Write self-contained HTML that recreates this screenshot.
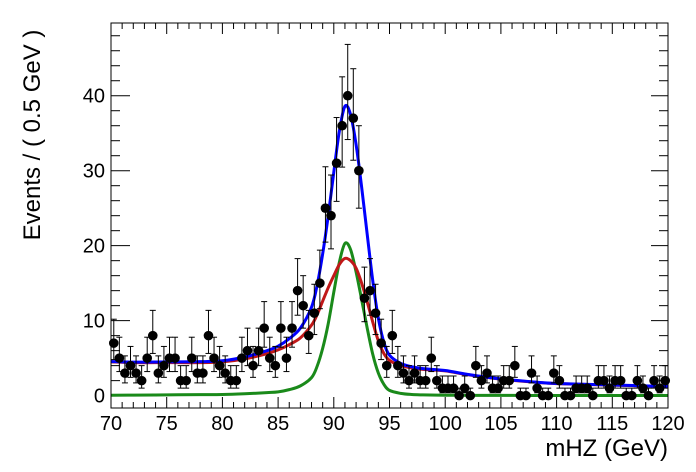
<!DOCTYPE html>
<html><head><meta charset="utf-8"><style>
html,body{margin:0;padding:0;background:#fff;}
svg{display:block;font-family:"Liberation Sans",Arial,sans-serif;}
</style></head><body>
<svg id="chart" width="696" height="472" viewBox="0 0 696 472">
<rect width="696" height="472" fill="#fff"/>
<g id="axes"></g>
<g id="curves"></g>
<g id="points"></g>
<rect x="111" y="23" width="557" height="385" fill="none" stroke="#000" stroke-width="1"/>
<text x="40" y="135" transform="rotate(-90 40 135)" text-anchor="middle" font-size="24">Events / ( 0.5 GeV )</text>
<text x="668" y="456" text-anchor="end" font-size="24">mHZ (GeV)</text>
</svg>
<script>
const binCounts = [7,5,3,4,3,2,5,8,3,4,5,5,2,2,5,3,3,8,5,4,3,2,2,5,6,4,6,9,5,4,9,5,9,14,12,8,11,15,25,24,31,36,40,37,30,13,14,11,7,4,8,4,3,2,3,2,2,5,2,1,1,1,0,1,0,4,2,3,1,1,2,2,4,0,0,3,1,0,0,3,2,0,0,1,1,1,0,2,2,1,2,2,0,0,2,1,0,2,1,2];
const xTicks = [70,75,80,85,90,95,100,105,110,115,120];
const yTicks = [0,10,20,30,40];
const redX = [70,72,75,78,80,82,84,85,86,87,88,88.5,89,89.5,90,90.5,91,91.5,92,92.5,93,93.5,94,94.5,95,96,97,98,100,102,105,108,110,115,120];
const redY = [4.5,4.4,4.4,4.4,4.5,4.9,5.6,6.1,6.8,7.7,9.4,10.8,12.6,14.4,16.0,17.5,18.3,18.0,17.0,15.0,12.5,9.8,7.3,5.6,4.7,4.0,3.7,3.5,3.3,2.8,2.2,1.8,1.6,1.4,1.2];
const greenY = [0.05,0.07,0.1,0.13,0.15,0.25,0.4,0.5,0.8,1.3,2.4,3.9,6.3,9.6,13.8,17.8,20.3,19.5,16.5,12.8,9.0,5.5,3.0,1.5,0.7,0.3,0.15,0.1,0.05,0.04,0.03,0.02,0.02,0.02,0.02];
const binWidth = 0.5, xMin = 70, xMax = 120, yMin = -1.65, yMax = 49.7;
const L=111,R=668,T=23,B=408;
const NS="http://www.w3.org/2000/svg";
function sx(v){return L+(v-xMin)/(xMax-xMin)*(R-L);}
function sy(v){return B-(v-yMin)/(yMax-yMin)*(B-T);}
function mk(tag,attrs,parent){const e=document.createElementNS(NS,tag);for(const k in attrs)e.setAttribute(k,attrs[k]);parent.appendChild(e);return e;}
const axes=document.getElementById('axes');
for(let v=xMin; v<=xMax+1e-9; v+=1){
  const major = Math.abs(v%5)<1e-9;
  const t1=mk('line',{x1:sx(v),x2:sx(v),y1:B,y2:B-(major?11:6),stroke:'#000'},axes);
  
  
  const t2=mk('line',{x1:sx(v),x2:sx(v),y1:T,y2:T+(major?11:6),stroke:'#000'},axes);
  
  
}
xTicks.forEach(v=>{
  const t=mk('text',{x:sx(v),y:430,'text-anchor':'middle','font-size':20},axes);
  t.textContent=v;
  
  
});
for(let v=0; v<=48; v+=2){
  const major = v%10===0;
  const t1=mk('line',{x1:L,x2:L+(major?19:9),y1:sy(v),y2:sy(v),stroke:'#000'},axes);
  
  
  const t2=mk('line',{x1:R,x2:R-(major?17:9),y1:sy(v),y2:sy(v),stroke:'#000'},axes);
  
  
}
yTicks.forEach(v=>{
  const t=mk('text',{x:105,y:sy(v)+7,'text-anchor':'end','font-size':20},axes);
  t.textContent=v;
  
  
});
const curves=document.getElementById('curves');
function pathFrom(xs,ys){
  const p=xs.map((x,i)=>[sx(x),sy(ys[i])]);
  let d='M'+p[0][0]+','+p[0][1];
  for(let i=0;i<p.length-1;i++){
    const p0=p[Math.max(0,i-1)],p1=p[i],p2=p[i+1],p3=p[Math.min(p.length-1,i+2)];
    const c1=[p1[0]+(p2[0]-p0[0])/6,p1[1]+(p2[1]-p0[1])/6];
    const c2=[p2[0]-(p3[0]-p1[0])/6,p2[1]-(p3[1]-p1[1])/6];
    d+=' C'+c1[0]+','+c1[1]+' '+c2[0]+','+c2[1]+' '+p2[0]+','+p2[1];
  }
  return d;
}
const blueY = redY.map((v,i)=>v+greenY[i]);
const g=mk('path',{d:pathFrom(redX,greenY),fill:'none',stroke:'#1a8a1a','stroke-width':3},curves);


const r=mk('path',{d:pathFrom(redX,redY),fill:'none',stroke:'#c01818','stroke-width':3},curves);


const b=mk('path',{d:pathFrom(redX,blueY),fill:'none',stroke:'#0000ff','stroke-width':3},curves);


const pts=document.getElementById('points');
binCounts.forEach((n,i)=>{
  const xc=xMin+binWidth*(i+0.5);
  const up=n+Math.sqrt(n+0.25)+0.5, lo=Math.max(0,n-Math.sqrt(n+0.25)+0.5);
  const X=sx(xc);
  const grp=mk('g',{},pts);
  
  
  mk('line',{x1:X,x2:X,y1:sy(up),y2:sy(lo),stroke:'#000','stroke-width':1},grp);
  mk('line',{x1:X-3,x2:X+3,y1:sy(up),y2:sy(up),stroke:'#000','stroke-width':1},grp);
  mk('line',{x1:X-3,x2:X+3,y1:sy(lo),y2:sy(lo),stroke:'#000','stroke-width':1},grp);
  mk('circle',{cx:X,cy:sy(n),r:4.8,fill:'#000'},grp);
});
</script>
</body></html>
